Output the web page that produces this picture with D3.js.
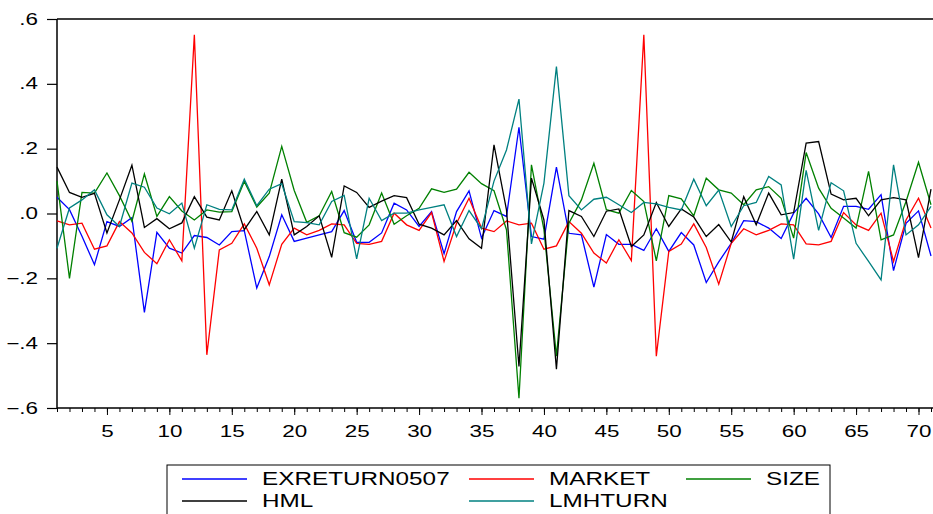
<!DOCTYPE html>
<html>
<head>
<meta charset="utf-8">
<script src="https://cdn.jsdelivr.net/npm/d3@7"></script>
<style>
body { margin: 0; background: #fff; }
text { font-family: "Liberation Sans", Arial, sans-serif; }
</style>
</head>
<body>
<div id="chart"></div>
<script>
// observations 1..71
var obs = d3.range(1, 72);

var exreturn0507 = [0.05, 0.012, -0.07, -0.158, -0.025, -0.04, -0.013, -0.305, -0.058, -0.107,
  -0.122, -0.068, -0.074, -0.097, -0.056, -0.053, -0.23, -0.133, -0.004, -0.086,
  -0.076, -0.066, -0.056, 0.009, -0.089, -0.089, -0.06, 0.032, 0.011, -0.04,
  0.006, -0.124, 0.006, 0.07, -0.076, 0.009, -0.009, 0.266, -0.071, -0.079,
  0.143, -0.061, -0.066, -0.227, -0.065, -0.095, -0.095, -0.114, -0.047, -0.117,
  -0.059, -0.097, -0.213, -0.149, -0.092, -0.022, -0.025, -0.045, -0.077, 0.001,
  0.047, -0.001, -0.074, 0.022, 0.022, 0.013, 0.058, -0.176, -0.03, 0.008, -0.131];

var market = [-0.023, -0.035, -0.03, -0.11, -0.1, -0.025, -0.06, -0.12, -0.155, -0.081,
  -0.146, 0.551, -0.436, -0.112, -0.092, -0.032, -0.107, -0.22, -0.095, -0.045,
  -0.066, -0.052, -0.032, -0.035, -0.092, -0.095, -0.086, 0.001, -0.035, -0.052,
  0.003, -0.148, -0.03, 0.047, -0.045, -0.056, -0.023, -0.035, -0.03, -0.11,
  -0.1, -0.025, -0.061, -0.122, -0.153, -0.081, -0.145, 0.551, -0.44, -0.117,
  -0.094, -0.032, -0.105, -0.218, -0.092, -0.047, -0.066, -0.052, -0.032, -0.035,
  -0.094, -0.097, -0.086, 0.003, -0.035, -0.052, 0.001, -0.148, -0.02, 0.047, -0.045];

var size = [0.1, -0.2, 0.065, 0.063, 0.125, 0.055, -0.024, 0.122, -0.009, 0.052,
  0.008, -0.02, 0.011, 0.004, 0.006, 0.099, 0.02, 0.063, 0.207, 0.071,
  -0.027, -0.007, 0.068, -0.059, -0.073, -0.035, 0.063, -0.033, -0.007, 0.016,
  0.076, 0.065, 0.075, 0.127, 0.092, 0.07, -0.05, -0.57, 0.15, -0.05,
  -0.44, -0.03, 0.042, 0.155, 0.012, 0.001, 0.071, 0.037, -0.146, 0.055,
  0.045, -0.007, 0.109, 0.073, 0.063, 0.027, 0.073, 0.083, 0.047, -0.076,
  0.188, 0.078, 0.016, -0.014, -0.045, 0.13, -0.081, -0.066, 0.037, 0.158, 0.027];

var hml = [0.143, 0.065, 0.05, 0.062, -0.06, 0.042, 0.149, -0.043, -0.016, -0.047,
  -0.029, 0.052, -0.011, -0.02, 0.07, -0.05, 0.006, -0.066, 0.106, -0.066,
  -0.04, -0.007, -0.135, 0.085, 0.065, 0.019, 0.038, 0.055, 0.049, -0.033,
  -0.045, -0.066, -0.022, -0.078, -0.107, 0.212, 0.011, -0.472, 0.109, -0.02,
  -0.48, 0.009, -0.009, -0.071, 0.007, 0.014, -0.102, -0.066, 0.034, -0.04,
  0.014, -0.011, -0.071, -0.034, -0.088, 0.052, -0.035, 0.063, -0.004, 0.003,
  0.217, 0.222, 0.06, 0.042, 0.047, -0.007, 0.042, 0.049, 0.042, -0.136, 0.075];

var lmhturn = [-0.107, 0.017, 0.042, 0.073, -0.004, -0.04, 0.094, 0.081, 0.017, -0.001,
  0.032, -0.107, 0.027, 0.013, 0.011, 0.106, 0.024, 0.075, 0.092, -0.025,
  -0.028, -0.035, 0.037, 0.056, -0.14, 0.047, -0.022, 0.001, 0.001, 0.011,
  0.019, 0.027, -0.071, 0.009, -0.047, 0.1, 0.196, 0.353, -0.094, 0.094,
  0.453, 0.055, 0.011, 0.044, 0.05, 0.027, 0.003, 0.034, 0.03, 0.019,
  0.011, 0.106, 0.024, 0.072, -0.04, 0.024, 0.034, 0.114, 0.088, -0.141,
  0.133, -0.052, 0.095, 0.07, -0.092, -0.148, -0.205, 0.15, -0.066, -0.035, 0.022];

var seriesNames = ["EXRETURN0507", "MARKET", "SIZE", "HML", "LMHTURN"];
var seriesColors = ["#0000ff", "#ff0000", "#008000", "#000000", "#008080"];
var seriesData = [exreturn0507, market, size, hml, lmhturn];

var yTicks = [-0.6, -0.4, -0.2, 0, 0.2, 0.4, 0.6];
var xMajorTicks = [5, 10, 15, 20, 25, 30, 35, 40, 45, 50, 55, 60, 65, 70];

var svgWidth = 933;
var svgHeight = 514;
var plot = {left: 57, right: 931, top: 19, bottom: 408};
var stretch = 1.4; // eviews text is drawn wide

var svg = d3.select("#chart")
    .append("svg")
    .attr("width", svgWidth)
    .attr("height", svgHeight);

var x = d3.scaleLinear().domain([1, 71]).range([plot.left, plot.right]);
var y = d3.scaleLinear().domain([-0.6, 0.6]).range([plot.bottom, plot.top]);

function fmt(d) {
    if (d === 0) return ".0";
    return d3.format(".1f")(d).replace("0.", ".");
}

// y axis
var yAxis = svg.append("g")
    .attr("transform", `translate(${plot.left},0)`)
    .call(d3.axisLeft(y).tickValues(yTicks).tickSize(10).tickPadding(0).tickFormat(fmt));
yAxis.select(".domain").remove();
yAxis.attr("font-size", 16).attr("font-family", "Liberation Sans, Arial, sans-serif");
yAxis.selectAll("line").attr("stroke-width", 1.2);
yAxis.selectAll("text")
    .attr("fill", "#000")
    .attr("x", -19 / stretch)
    .attr("transform", `scale(${stretch},1)`);

// x axis minor ticks
var xMinor = svg.append("g")
    .attr("transform", `translate(0,${plot.bottom})`)
    .call(d3.axisBottom(x).tickValues(obs).tickSize(4).tickFormat(""));
xMinor.select(".domain").remove();

// x axis major ticks + labels
var xAxis = svg.append("g")
    .attr("transform", `translate(0,${plot.bottom})`)
    .call(d3.axisBottom(x).tickValues(xMajorTicks).tickSize(7).tickPadding(11).tickFormat(d3.format("d")));
xAxis.select(".domain").remove();
xAxis.attr("font-size", 16).attr("font-family", "Liberation Sans, Arial, sans-serif");
xAxis.selectAll("text")
    .attr("fill", "#000")
    .attr("transform", `scale(${stretch},1)`);

// frame: left, top, bottom (right side falls off the picture)
svg.append("path")
    .attr("d", `M${plot.left},${plot.top}H${svgWidth + 2}M${plot.left},${plot.top}V${plot.bottom}H${svgWidth + 2}`)
    .attr("fill", "none")
    .attr("stroke", "#000")
    .attr("stroke-width", 1.5);

// series lines
var line = d3.line()
    .x((d, i) => x(obs[i]))
    .y(d => y(d));

svg.selectAll(".series")
    .data(seriesData)
    .enter()
    .append("path")
    .attr("class", "series")
    .attr("d", line)
    .attr("fill", "none")
    .attr("stroke", (d, i) => seriesColors[i])
    .attr("stroke-width", 1.3)
    .attr("stroke-linejoin", "miter");

// legend
var legendCols = [182, 469, 686];
var legendRows = [479, 501];
var legendPos = [[0, 0], [1, 0], [2, 0], [0, 1], [1, 1]];

svg.append("rect")
    .attr("x", 167)
    .attr("y", 465)
    .attr("width", 663)
    .attr("height", 80)
    .attr("fill", "none")
    .attr("stroke", "#000")
    .attr("stroke-width", 1);

var legend = svg.selectAll(".legend")
    .data(seriesNames)
    .enter()
    .append("g")
    .attr("class", "legend")
    .attr("transform", (d, i) => `translate(${legendCols[legendPos[i][0]]},${legendRows[legendPos[i][1]]})`);

legend.append("line")
    .attr("x1", 0)
    .attr("x2", 65)
    .attr("stroke", (d, i) => seriesColors[i])
    .attr("stroke-width", 1.3);

legend.append("text")
    .attr("x", 80 / 1.35)
    .attr("dy", "0.36em")
    .attr("transform", "scale(1.35,1)")
    .attr("font-size", 18)
    .text(d => d);
</script>
</body>
</html>
